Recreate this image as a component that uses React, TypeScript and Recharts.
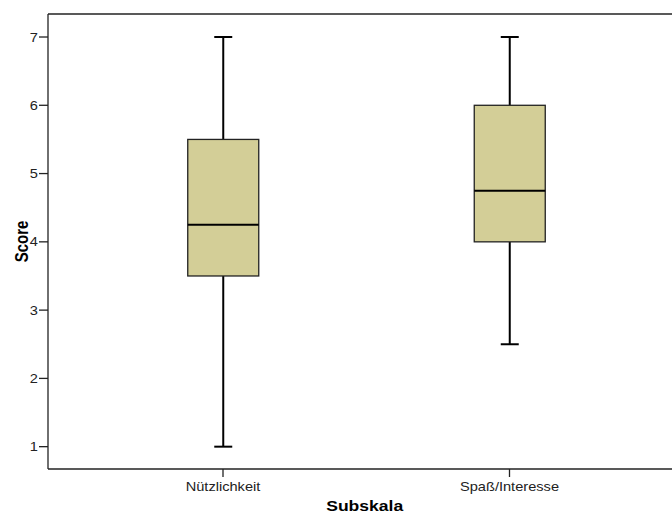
import React from 'react';
import { ComposedChart, Bar, XAxis, YAxis, Label, ReferenceLine } from 'recharts';

const categories = ['Nützlichkeit', 'Spaß/Interesse'];
const minValues = [1, 2.5];
const q1Values = [3.5, 4];
const medianValues = [4.25, 4.75];
const q3Values = [5.5, 6];
const maxValues = [7, 7];
const yTicks = [1, 2, 3, 4, 5, 6, 7];
const yDomain = [0.673, 7.337];

const data = categories.map((name, i) => ({
  name,
  range: [minValues[i], maxValues[i]],
  min: minValues[i],
  q1: q1Values[i],
  median: medianValues[i],
  q3: q3Values[i],
  max: maxValues[i],
}));

const FONT = '"Liberation Sans", Arial, sans-serif';
const STRETCH = 1.17;

const BoxShape = (props: any) => {
  const { x, y, width, height, payload } = props;
  const top = Math.min(y, y + height);
  const h = Math.abs(height);
  const { min, q1, median, q3, max } = payload;
  const py = (v: number) => top + ((max - v) / (max - min)) * h;
  const cx = x + width / 2;
  const capW = 18;
  return (
    <g>
      <line x1={cx} x2={cx} y1={py(max)} y2={py(q3)} stroke="#000" strokeWidth={2} />
      <line x1={cx} x2={cx} y1={py(q1)} y2={py(min)} stroke="#000" strokeWidth={2} />
      <line x1={cx - capW / 2} x2={cx + capW / 2} y1={py(max)} y2={py(max)} stroke="#000" strokeWidth={2} />
      <line x1={cx - capW / 2} x2={cx + capW / 2} y1={py(min)} y2={py(min)} stroke="#000" strokeWidth={2} />
      <rect x={x} y={py(q3)} width={width} height={py(q1) - py(q3)} fill="#D3CE97" stroke="#222" strokeWidth={1.3} />
      <line x1={x} x2={x + width} y1={py(median)} y2={py(median)} stroke="#000" strokeWidth={2} />
    </g>
  );
};

const YTick = (props: any) => {
  const { x, y, payload } = props;
  return (
    <text
      transform={`translate(${x + 1},${y + 4.5}) scale(${STRETCH},1)`}
      textAnchor="end"
      fontFamily={FONT}
      fontSize={12.5}
      fill="#222"
    >
      {payload.value}
    </text>
  );
};

const XTick = (props: any) => {
  const { x, y, payload } = props;
  return (
    <text
      transform={`translate(${x},${y + 12}) scale(${STRETCH},1)`}
      textAnchor="middle"
      fontFamily={FONT}
      fontSize={12.5}
      fill="#222"
    >
      {payload.value}
    </text>
  );
};

export default function App() {
  return (
    <div style={{ position: 'absolute', left: 0, top: 0, background: '#fff' }}>
      <ComposedChart
        width={672}
        height={513}
        data={data}
        margin={{ top: 14, right: 0, bottom: 0, left: 0 }}
      >
        <XAxis
          dataKey="name"
          type="category"
          height={44}
          padding={{ left: 31.75, right: 19.25 }}
          tickSize={8}
          tickMargin={2}
          tick={<XTick />}
          tickLine={{ stroke: '#222', strokeWidth: 1.3 }}
          axisLine={{ stroke: '#222', strokeWidth: 1.3 }}
          interval={0}
        >
          <Label
            content={(p: any) => {
              const vb = p.viewBox;
              const cx = vb.x + vb.width / 2 + 4.7;
              return (
                <text
                  transform={`translate(${cx},511) scale(${STRETCH},1)`}
                  textAnchor="middle"
                  fontFamily={FONT}
                  fontSize={15}
                  fontWeight="bold"
                  fill="#000"
                >
                  Subskala
                </text>
              );
            }}
          />
        </XAxis>
        <YAxis
          type="number"
          width={48}
          domain={yDomain}
          ticks={yTicks}
          interval={0}
          allowDataOverflow
          tickSize={9}
          tickMargin={2}
          tick={<YTick />}
          tickLine={{ stroke: '#222', strokeWidth: 1.3 }}
          axisLine={{ stroke: '#222', strokeWidth: 1.3 }}
        >
          <Label
            content={(p: any) => {
              const vb = p.viewBox;
              const cy = vb.y + vb.height / 2;
              return (
                <text
                  transform={`translate(28,${cy}) rotate(-90) scale(1,${STRETCH})`}
                  textAnchor="middle"
                  fontFamily={FONT}
                  fontSize={15}
                  fontWeight="bold"
                  fill="#000"
                >
                  Score
                </text>
              );
            }}
          />
        </YAxis>
        <ReferenceLine y={yDomain[1]} stroke="#222" strokeWidth={1.3} ifOverflow="extendDomain" />
        <Bar dataKey="range" barSize={71} shape={<BoxShape />} isAnimationActive={false} activeBar={false} />
      </ComposedChart>
    </div>
  );
}
